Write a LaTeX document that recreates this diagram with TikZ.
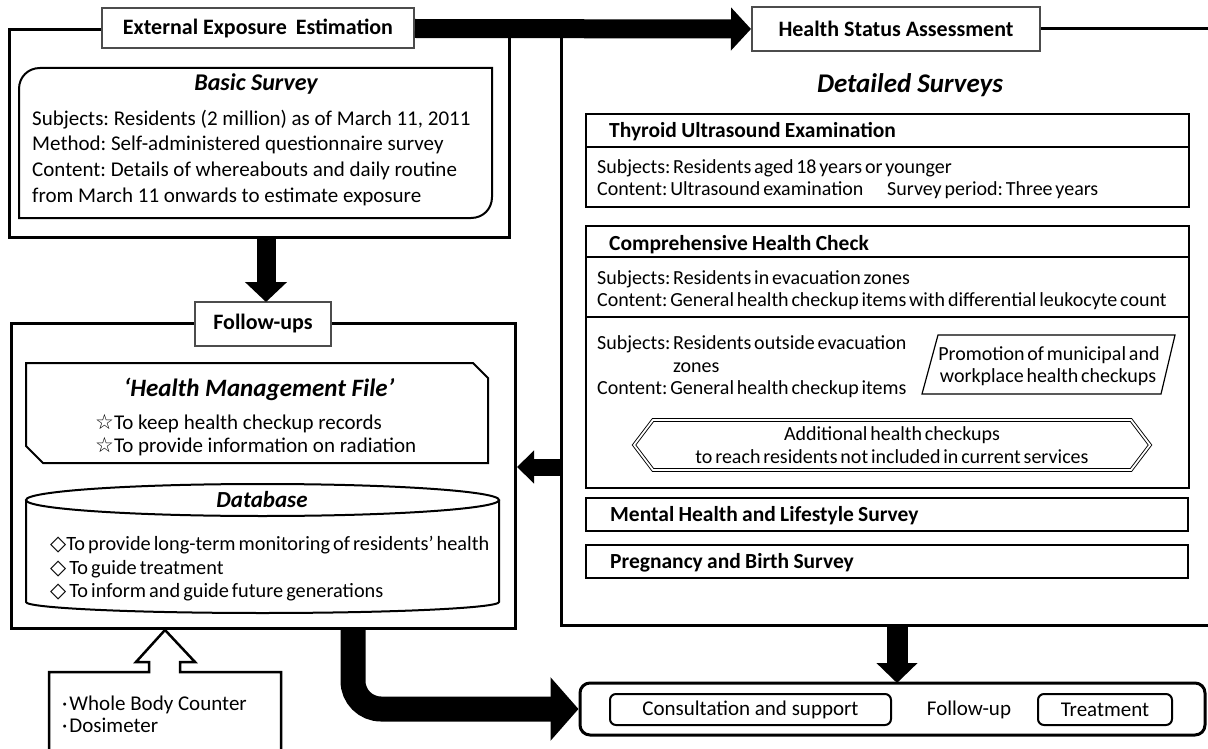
\documentclass[tikz,border=0pt]{standalone}
\usepackage{fontspec}
\setmainfont{Carlito}
\newfontfamily\symfont{DejaVu Sans}
\newcommand\tightsp{\spaceskip=0.14em\relax}
\newcommand\headsp{\spaceskip=0.2em\relax}
\newcommand\dbsp{\spaceskip=0.15em\relax}
\usetikzlibrary{arrows.meta}
\AtBeginDocument{\frenchspacing}
\begin{document}
\begin{tikzpicture}[x=1pt,y=-1pt,
  frame/.style={line width=3pt, draw=black},
  tbox/.style={draw=black!70, line width=2pt, fill=white, inner sep=0pt, font=\fontsize{22}{26}\selectfont\bfseries},
  box/.style={draw=black, line width=2pt},
  secbox/.style={draw=black, line width=2pt, anchor=north west, inner sep=0pt},
  ltxt/.style={anchor=base west, inner sep=0pt, font=\fontsize{21}{25}\selectfont},
  dtxt/.style={anchor=base west, inner sep=0pt, font={\fontsize{20.3}{25}\selectfont\dbsp}},
  rtxt/.style={anchor=base west, inner sep=0pt, font={\fontsize{20}{24}\selectfont\tightsp}},
  rhead/.style={anchor=base west, inner sep=0pt, font={\fontsize{21.5}{25}\selectfont\bfseries\headsp}},
  ctxt/.style={inner sep=0pt, font={\fontsize{20}{24}\selectfont\tightsp}},
  btxt/.style={inner sep=0pt, font=\fontsize{21}{25}\selectfont},
  ttl/.style={inner sep=0pt, font=\fontsize{24}{28}\selectfont\bfseries\itshape}
]
\useasboundingbox (0,0) rectangle (1208,749);

% ---------- frames ----------
\draw[frame] (9,30) rectangle (509,237);
\draw[frame] (11,323) rectangle (515,628);

% ---------- left column ----------
\node[tbox, minimum width=312pt, minimum height=40pt] (eee) at (258,28.5) {External Exposure\hspace{4pt} Estimation};

\draw[box, fill=white] (19,218) -- (19,89) .. controls (19,77) and (28,68) .. (40,68)
  -- (492,68) -- (492,197) .. controls (492,209) and (483,218) .. (471,218) -- cycle;
\node[ttl] (bst) at (256,84) {Basic Survey};
\node[ltxt] (bs1) at (32,126) {Subjects: Residents (2 million) as of March 11, 2011};
\node[ltxt] (bs2) at (32,151) {Method: Self-administered questionnaire survey};
\node[ltxt] (bs3) at (32,177) {Content: Details of whereabouts and daily routine};
\node[ltxt] (bs4) at (32,202) {from March 11 onwards to estimate exposure};

\node[tbox, minimum width=136pt, minimum height=44pt] (fu) at (263,324) {Follow-ups};

\draw[box, fill=white] (26,363) -- (473,363) -- (488,378) -- (488,463) -- (43,463) -- (26,446) -- cycle;
\node[inner sep=0pt, font=\fontsize{25}{29}\selectfont\bfseries\itshape] (hmft) at (259,389) {‘Health Management File’};
\node[ltxt] (hm1) at (95,429) {{\symfont\fontsize{21}{24}\selectfont ☆}To keep health checkup records};
\node[ltxt] (hm2) at (95,452) {{\symfont\fontsize{21}{24}\selectfont ☆}To provide information on radiation};

\draw[box, fill=white] (26,500) -- (26,602) .. controls (26,608) and (132,613) .. (262.5,613)
  .. controls (393,613) and (499,608) .. (499,602) -- (499,500);
\draw[box] (262.5,500) ellipse [x radius=236.5pt, y radius=16pt];
\node[inner sep=0pt, font=\fontsize{23}{27}\selectfont\bfseries\itshape] (dbt) at (262,500) {Database};
\node[dtxt] (db1) at (50,550) {{\symfont\fontsize{21}{24}\selectfont ◇}To provide long-term monitoring of residents’ health};
\node[dtxt] (db2) at (50,574) {{\symfont\fontsize{21}{24}\selectfont ◇} To guide treatment};
\node[dtxt] (db3) at (50,597) {{\symfont\fontsize{21}{24}\selectfont ◇} To inform and guide future generations};

% whole body counter box with hollow up arrow
\draw[line width=2.5pt, line join=miter] (49,760) -- (49,672) -- (149,672) -- (149,662) -- (136,662)
  -- (165,630) -- (195,662) -- (180,662) -- (180,672) -- (281,672) -- (281,760);
\node[anchor=base west, inner sep=0pt, font=\fontsize{21}{25}\selectfont] (wb1) at (62,710) {·\kern2pt Whole Body Counter};
\node[anchor=base west, inner sep=0pt, font=\fontsize{21}{25}\selectfont] (wb2) at (62,732) {·\kern2pt Dosimeter};

% ---------- right column ----------
\node[tbox, minimum width=288pt, minimum height=44pt] (hsa) at (896,29) {Health Status Assessment};
\draw[frame] (hsa.east) -- (1215,29);
\draw[frame] (561,30) -- (561,625) -- (1215,625);
\node[inner sep=0pt, font=\fontsize{27}{31}\selectfont\bfseries\itshape] (ds) at (910,85) {Detailed Surveys};

\node[secbox, minimum width=603pt, minimum height=93pt] (thy) at (585,113) {};
\draw[box] (585,147) -- (1188,147);
\node[rhead] (thyh) at (609,138) {Thyroid Ultrasound Examination};
\node[rtxt] (thy1) at (597,174) {Subjects: Residents aged 18 years or younger};
\node[rtxt] (thy2) at (597,196) {Content: Ultrasound examination};
\node[rtxt] (thy3) at (887,196) {Survey period: Three years};

\node[secbox, minimum width=603pt, minimum height=262pt] (chc) at (585,225) {};
\draw[box] (585,257) -- (1188,257);
\draw[box] (585,317) -- (1188,317);
\node[rhead] (chch) at (609,250) {Comprehensive Health Check};
\node[rtxt] (chc1) at (597,284) {Subjects: Residents in evacuation zones};
\node[rtxt] (chc2) at (597,306) {Content: General health checkup items with differential leukocyte count};
\node[rtxt] (chc3) at (597,349) {Subjects: Residents outside evacuation};
\node[rtxt] (chc4) at (673,372) {zones};
\node[rtxt] (chc5) at (597,394) {Content: General health checkup items};

\draw[line width=1.2pt] (922,394) -- (938,335) -- (1175,335) -- (1161,394) -- cycle;
\node[ctxt] (pm1) at (1049,355) {Promotion of municipal and};
\node[ctxt] (pm2) at (1048,377) {workplace health checkups};

\draw[line width=0.9pt, double, double distance=1.8pt] (634,445) -- (653,420) -- (1131,420)
  -- (1150,445) -- (1131,470) -- (653,470) -- cycle;
\node[ctxt] (ad1) at (892,435) {Additional health checkups};
\node[ctxt] (ad2) at (892,457) {to reach residents not included in current services};

\node[secbox, minimum width=602pt, minimum height=33pt] (mh) at (585,497) {};
\node[rhead] (mht) at (610,521) {Mental Health and Lifestyle Survey};
\node[secbox, minimum width=602pt, minimum height=33pt] (pb) at (585,544) {};
\node[rhead] (pbt) at (610,568) {Pregnancy and Birth Survey};

% ---------- bottom ----------
\node[draw, line width=3pt, rounded corners=10pt, minimum width=625pt, minimum height=52pt, inner sep=0pt] (bot) at (892.5,709) {};
\node[draw, line width=2pt, rounded corners=6pt, minimum width=281pt, minimum height=31pt, inner sep=0pt,
  btxt] (cs) at (750.5,709.5) {Consultation and support};
\node[btxt] (fut) at (969,709.5) {Follow-up};
\node[draw, line width=2pt, rounded corners=6pt, minimum width=134pt, minimum height=31pt, inner sep=0pt,
  btxt] (tr) at (1105,709.5) {Treatment};

% ---------- connectors ----------
\coordinate (f1b) at (266,237);
\coordinate (fut1) at (266,302);
\coordinate (rfl) at (561,467);
\coordinate (f2r) at (517,467);
\coordinate (rfb) at (897,625);
\coordinate (bott) at (897,683);
\coordinate (f2b) at (353,628);

\draw[line width=19pt, -{Triangle[width=42pt,length=20pt]}] (eee.east) -- (hsa.west);
\draw[line width=19pt, -{Triangle[width=41pt,length=20pt]}] (f1b) -- (fut1);
\draw[line width=17pt, -{Triangle[width=32pt,length=17pt]}] (rfl) -- (f2r);
\draw[line width=21pt, -{Triangle[width=40pt,length=20pt]}] (rfb) -- (bott);
\draw[line width=25pt, rounded corners=28pt, -{Triangle[width=62pt,length=28pt]}] (f2b) |- (bot.west);
\end{tikzpicture}
\end{document}
